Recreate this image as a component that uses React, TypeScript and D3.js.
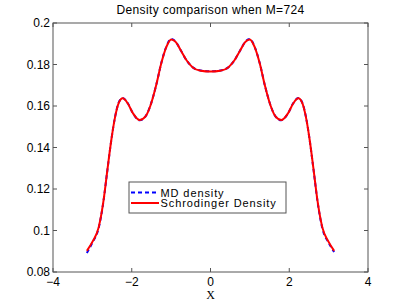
import React from 'react';
import * as d3 from 'd3';

const xs = [-3.14, -3.0, -2.84, -2.72, -2.62, -2.52, -2.42, -2.33, -2.23, -2.1, -1.97, -1.8, -1.65, -1.52, -1.38, -1.25, -1.12, -1.0, -0.88, -0.76, -0.6, -0.45, -0.25, 0,
  0.25, 0.45, 0.6, 0.76, 0.88, 1.0, 1.12, 1.25, 1.38, 1.52, 1.65, 1.8, 1.97, 2.1, 2.23, 2.33, 2.42, 2.52, 2.62, 2.72, 2.84, 3.0, 3.14];
const schrodinger = [0.0902, 0.0945, 0.1015, 0.114, 0.129, 0.1435, 0.155, 0.1615, 0.1637, 0.1612, 0.1565, 0.1532, 0.155, 0.1605, 0.17, 0.1806, 0.1885, 0.1921, 0.1908, 0.187, 0.1818, 0.1786, 0.177, 0.1766,
  0.177, 0.1786, 0.1818, 0.187, 0.1908, 0.1921, 0.1885, 0.1806, 0.17, 0.1605, 0.155, 0.1532, 0.1565, 0.1612, 0.1637, 0.1615, 0.155, 0.1435, 0.129, 0.114, 0.1015, 0.0945, 0.0902];
const md = [0.0892, 0.0941, 0.1012, 0.1138, 0.1289, 0.1435, 0.1551, 0.1617, 0.1639, 0.1613, 0.1565, 0.1531, 0.155, 0.1606, 0.17, 0.1807, 0.1887, 0.1923, 0.1909, 0.187, 0.1818, 0.1786, 0.1771, 0.1767,
  0.1771, 0.1786, 0.1818, 0.187, 0.1909, 0.1923, 0.1886, 0.1807, 0.17, 0.1606, 0.155, 0.1531, 0.1565, 0.1613, 0.1639, 0.1616, 0.1551, 0.1434, 0.1288, 0.1137, 0.1011, 0.0941, 0.0896];
const xTicks = [-4, -2, 0, 2, 4];
const yTicks = [0.08, 0.1, 0.12, 0.14, 0.16, 0.18, 0.2];
const legendLabels = ['MD density', 'Schrodinger Density'];

const W = 407, H = 306;
const m = { left: 53, right: 368, top: 23, bottom: 272 };

export default function App() {
  const x = d3.scaleLinear().domain([-4, 4]).range([m.left, m.right]);
  const y = d3.scaleLinear().domain([0.08, 0.2]).range([m.bottom, m.top]);
  const line = d3.line<number>().x((_, i) => x(xs[i])).y(d => y(d)).curve(d3.curveMonotoneX);
  const axisColor = '#555';
  const font = 'Liberation Sans, Arial, sans-serif';
  const fmt = (v: number) => String(+v.toFixed(2)).replace('-', '\u2212');
  const tl = 4;

  return (
    <svg width={W} height={H} style={{ position: 'absolute', left: 0, top: 0, background: '#fff' }} fontFamily={font}>
      <rect x={0} y={0} width={W} height={H} fill="#fff" />
      <path d={line(md) || ''} fill="none" stroke="#0000ff" strokeWidth={2} strokeDasharray="4,3" />
      <path d={line(schrodinger) || ''} fill="none" stroke="#ff0000" strokeWidth={2} />
      <rect x={m.left} y={m.top} width={m.right - m.left} height={m.bottom - m.top} fill="none" stroke={axisColor} strokeWidth={1} />
      {xTicks.map(t => (
        <g key={'x' + t}>
          <line x1={x(t)} x2={x(t)} y1={m.bottom} y2={m.bottom - tl} stroke={axisColor} />
          <line x1={x(t)} x2={x(t)} y1={m.top} y2={m.top + tl} stroke={axisColor} />
          <text x={x(t)} y={286} textAnchor="middle" fontSize={12}>{fmt(t)}</text>
        </g>
      ))}
      {yTicks.map(t => (
        <g key={'y' + t}>
          <line x1={m.left} x2={m.left + tl} y1={y(t)} y2={y(t)} stroke={axisColor} />
          <line x1={m.right} x2={m.right - tl} y1={y(t)} y2={y(t)} stroke={axisColor} />
          <text x={50} y={y(t) + 4} textAnchor="end" fontSize={12}>{fmt(t)}</text>
        </g>
      ))}
      <text x={x(0)} y={14} textAnchor="middle" fontSize={12} letterSpacing={0.35}>Density comparison when M=724</text>
      <text x={x(0)} y={299} textAnchor="middle" fontSize={12} fontFamily="Liberation Serif, Times New Roman, serif">X</text>
      <g>
        <rect x={129} y={182} width={157} height={31} fill="#fff" stroke={axisColor} />
        <line x1={131} x2={159} y1={192.5} y2={192.5} stroke="#0000ff" strokeWidth={2} strokeDasharray="4,3" />
        <line x1={131} x2={159} y1={203} y2={203} stroke="#ff0000" strokeWidth={2} />
        <text x={160.5} y={196.5} fontSize={11} letterSpacing={0.9}>{legendLabels[0]}</text>
        <text x={160.5} y={207.3} fontSize={11} letterSpacing={0.9}>{legendLabels[1]}</text>
      </g>
    </svg>
  );
}
